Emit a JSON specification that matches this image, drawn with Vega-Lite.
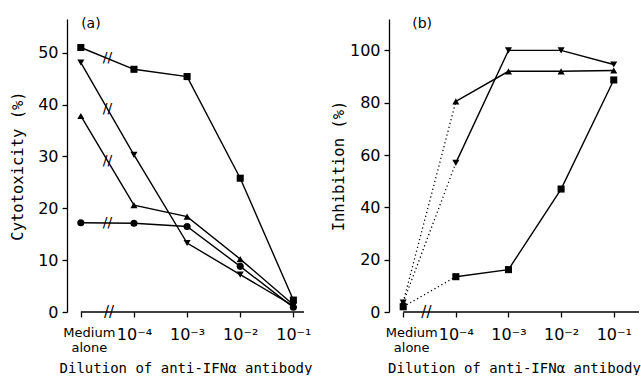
{
  "$schema": "https://vega.github.io/schema/vega-lite/v6.json",
  "background": "white",
  "padding": {"left": 10, "top": 17, "right": 5, "bottom": 0},
  "config": {
    "font": "DejaVu Sans",
    "view": {"stroke": null},
    "concat": {"spacing": 19},
    "axis": {
      "grid": false,
      "domainColor": "black",
      "tickColor": "black",
      "labelColor": "black",
      "titleColor": "black",
      "titleFontWeight": "normal",
      "titleFont": "DejaVu Sans Mono",
      "domainWidth": 1.3,
      "tickWidth": 1.3
    }
  },
  "datasets": {
    "points": [
      {"panel": "a", "series": "S1", "dose": 0, "value": 51},
      {"panel": "a", "series": "S1", "dose": 1, "value": 46.8},
      {"panel": "a", "series": "S1", "dose": 2, "value": 45.4},
      {"panel": "a", "series": "S1", "dose": 3, "value": 25.8},
      {"panel": "a", "series": "S1", "dose": 4, "value": 2.3},
      {"panel": "a", "series": "S2", "dose": 0, "value": 48.1},
      {"panel": "a", "series": "S2", "dose": 1, "value": 30.3},
      {"panel": "a", "series": "S2", "dose": 2, "value": 13.3},
      {"panel": "a", "series": "S2", "dose": 3, "value": 7.2},
      {"panel": "a", "series": "S2", "dose": 4, "value": 1.2},
      {"panel": "a", "series": "S3", "dose": 0, "value": 37.8},
      {"panel": "a", "series": "S3", "dose": 1, "value": 20.6},
      {"panel": "a", "series": "S3", "dose": 2, "value": 18.4},
      {"panel": "a", "series": "S3", "dose": 3, "value": 10.2},
      {"panel": "a", "series": "S3", "dose": 4, "value": 1.4},
      {"panel": "a", "series": "S4", "dose": 0, "value": 17.2},
      {"panel": "a", "series": "S4", "dose": 1, "value": 17.1},
      {"panel": "a", "series": "S4", "dose": 2, "value": 16.5},
      {"panel": "a", "series": "S4", "dose": 3, "value": 8.8},
      {"panel": "a", "series": "S4", "dose": 4, "value": 0.9},
      {"panel": "b", "series": "S2", "dose": 0, "value": 3.6},
      {"panel": "b", "series": "S2", "dose": 1, "value": 57},
      {"panel": "b", "series": "S2", "dose": 2, "value": 100},
      {"panel": "b", "series": "S2", "dose": 3, "value": 100},
      {"panel": "b", "series": "S2", "dose": 4, "value": 94.6},
      {"panel": "b", "series": "S3", "dose": 0, "value": 3.8},
      {"panel": "b", "series": "S3", "dose": 1, "value": 80.5},
      {"panel": "b", "series": "S3", "dose": 2, "value": 92},
      {"panel": "b", "series": "S3", "dose": 3, "value": 92},
      {"panel": "b", "series": "S3", "dose": 4, "value": 92.3},
      {"panel": "b", "series": "S1", "dose": 0, "value": 2},
      {"panel": "b", "series": "S1", "dose": 1, "value": 13.5},
      {"panel": "b", "series": "S1", "dose": 2, "value": 16.2},
      {"panel": "b", "series": "S1", "dose": 3, "value": 47},
      {"panel": "b", "series": "S1", "dose": 4, "value": 88.7}
    ],
    "one": [{"k": 1}]
  },
  "hconcat": [
    {
      "width": 237,
      "height": 293,
      "layer": [
        {
          "data": {"name": "points"},
          "transform": [{"filter": "datum.panel == 'a'"}],
          "mark": {"type": "line", "color": "black", "strokeWidth": 1.4},
          "encoding": {
            "x": {
              "field": "dose", "type": "quantitative",
              "scale": {"domain": [-0.26, 4.2], "nice": false, "zero": false},
              "axis": {
                "title": "Dilution of anti-IFNα antibody",
                "values": [0, 1, 2, 3, 4],
                "domain": false,
                "tickSize": 5,
                "labelFontSize": {"condition": {"test": "datum.value == 0", "value": 13}, "value": 16},
                "labelPadding": 9,
                "titleFontSize": 14,
                "titlePadding": 7,
                "labelOffset": {"condition": {"test": "datum.value == 0", "value": 8}, "value": 0},
                "labelExpr": "datum.value == 0 ? ['Medium', 'alone'] : datum.value == 1 ? '10⁻⁴' : datum.value == 2 ? '10⁻³' : datum.value == 3 ? '10⁻²' : '10⁻¹'"
              }
            },
            "y": {
              "field": "value", "type": "quantitative",
              "scale": {"domain": [0, 56.5], "nice": false},
              "axis": {
                "title": "Cytotoxicity  (%)",
                "values": [0, 10, 20, 30, 40, 50],
                "tickSize": 5,
                "labelFontSize": 16,
                "labelPadding": 4,
                "titleFontSize": 15.5,
                "titlePadding": 12
              }
            },
            "detail": {"field": "series"}
          }
        },
        {
          "data": {"name": "points"},
          "transform": [{"filter": "datum.panel == 'a'"}],
          "mark": {"type": "point", "filled": true, "color": "black", "opacity": 1, "size": 50},
          "encoding": {
            "x": {"field": "dose", "type": "quantitative"},
            "y": {"field": "value", "type": "quantitative"},
            "shape": {
              "field": "series", "type": "nominal", "legend": null,
              "scale": {"domain": ["S1", "S2", "S3", "S4"], "range": ["square", "triangle-down", "triangle-up", "circle"]}
            }
          }
        },
        {
          "data": {"name": "points"},
          "transform": [
            {"filter": "datum.panel == 'a' && datum.dose <= 1"},
            {"aggregate": [{"op": "mean", "field": "dose", "as": "dose"}, {"op": "mean", "field": "value", "as": "value"}], "groupby": ["series"]}
          ],
          "mark": {"type": "text", "fontSize": 14, "color": "black", "baseline": "middle", "align": "center"},
          "encoding": {
            "x": {"field": "dose", "type": "quantitative"},
            "y": {"field": "value", "type": "quantitative"},
            "text": {"value": "//"}
          }
        },
        {
          "data": {"name": "one"},
          "mark": {"type": "rule", "color": "black", "strokeWidth": 1.3},
          "encoding": {"x": {"datum": 0}, "x2": {"datum": 4.2}, "y": {"datum": 0}}
        },
        {
          "data": {"name": "one"},
          "mark": {"type": "text", "fontSize": 15, "color": "black", "baseline": "middle", "align": "center"},
          "encoding": {"x": {"datum": 0.53}, "y": {"datum": 0}, "text": {"value": "//"}}
        },
        {
          "data": {"name": "one"},
          "mark": {"type": "text", "fontSize": 14, "color": "black", "baseline": "middle", "align": "center"},
          "encoding": {"x": {"datum": 0.19}, "y": {"datum": 55.5}, "text": {"value": "(a)"}}
        }
      ]
    },
    {
      "width": 250,
      "height": 293,
      "layer": [
        {
          "data": {"name": "points"},
          "transform": [{"filter": "datum.panel == 'b' && datum.dose >= 1"}],
          "mark": {"type": "line", "color": "black", "strokeWidth": 1.4},
          "encoding": {
            "x": {
              "field": "dose", "type": "quantitative",
              "scale": {"domain": [-0.27, 4.48], "nice": false, "zero": false},
              "axis": {
                "title": "Dilution of anti-IFNα antibody",
                "values": [0, 1, 2, 3, 4],
                "domain": false,
                "tickSize": 5,
                "labelFontSize": {"condition": {"test": "datum.value == 0", "value": 13}, "value": 16},
                "labelPadding": 9,
                "titleFontSize": 14,
                "titlePadding": 7,
                "labelOffset": {"condition": {"test": "datum.value == 0", "value": 8}, "value": 0},
                "labelExpr": "datum.value == 0 ? ['Medium', 'alone'] : datum.value == 1 ? '10⁻⁴' : datum.value == 2 ? '10⁻³' : datum.value == 3 ? '10⁻²' : '10⁻¹'"
              }
            },
            "y": {
              "field": "value", "type": "quantitative",
              "scale": {"domain": [0, 112], "nice": false},
              "axis": {
                "title": "Inhibition   (%)",
                "values": [0, 20, 40, 60, 80, 100],
                "tickSize": 5,
                "labelFontSize": 16,
                "labelPadding": 4,
                "titleFontSize": 15.5,
                "titlePadding": 3
              }
            },
            "detail": {"field": "series"}
          }
        },
        {
          "data": {"name": "points"},
          "transform": [{"filter": "datum.panel == 'b' && datum.dose <= 1"}],
          "mark": {"type": "line", "color": "black", "strokeWidth": 1.3, "strokeDash": [1.2, 2.8]},
          "encoding": {
            "x": {"field": "dose", "type": "quantitative"},
            "y": {"field": "value", "type": "quantitative"},
            "detail": {"field": "series"}
          }
        },
        {
          "data": {"name": "points"},
          "transform": [{"filter": "datum.panel == 'b'"}],
          "mark": {"type": "point", "filled": true, "color": "black", "opacity": 1, "size": 50},
          "encoding": {
            "x": {"field": "dose", "type": "quantitative"},
            "y": {"field": "value", "type": "quantitative"},
            "shape": {
              "field": "series", "type": "nominal", "legend": null,
              "scale": {"domain": ["S1", "S2", "S3", "S4"], "range": ["square", "triangle-down", "triangle-up", "circle"]}
            }
          }
        },
        {
          "data": {"name": "one"},
          "mark": {"type": "rule", "color": "black", "strokeWidth": 1.3},
          "encoding": {"x": {"datum": 0}, "x2": {"datum": 4.48}, "y": {"datum": 0}}
        },
        {
          "data": {"name": "one"},
          "mark": {"type": "text", "fontSize": 15, "color": "black", "baseline": "middle", "align": "center"},
          "encoding": {"x": {"datum": 0.44}, "y": {"datum": 0}, "text": {"value": "//"}}
        },
        {
          "data": {"name": "one"},
          "mark": {"type": "text", "fontSize": 14, "color": "black", "baseline": "middle", "align": "center"},
          "encoding": {"x": {"datum": 0.36}, "y": {"datum": 110}, "text": {"value": "(b)"}}
        }
      ]
    }
  ]
}
